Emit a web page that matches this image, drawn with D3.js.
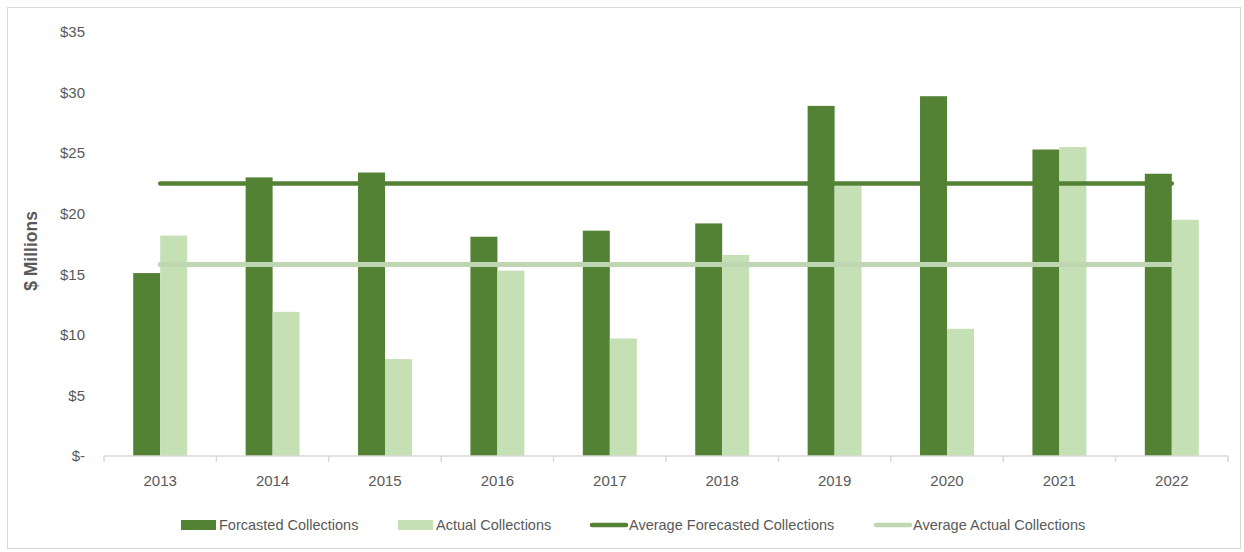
<!DOCTYPE html>
<html>
<head>
<meta charset="utf-8">
<script src="https://cdn.jsdelivr.net/npm/d3@7"></script>
<style>
  body { margin: 0; background: #fff; }
  text { font-family: 'Liberation Sans Narrow', 'Arial Narrow', 'Liberation Sans', sans-serif; fill: #595959; }
</style>
</head>
<body>
<div id="graf"></div>
<script>
const years = ['2013', '2014', '2015', '2016', '2017', '2018', '2019', '2020', '2021', '2022']
const forecasted = [15.1, 23.0, 23.4, 18.1, 18.6, 19.2, 28.9, 29.7, 25.3, 23.3]
const actual = [18.2, 11.9, 8.0, 15.3, 9.7, 16.6, 22.3, 10.5, 25.5, 19.5]
const avgForecasted = 22.5
const avgActual = 15.8
const yTicks = [0, 5, 10, 15, 20, 25, 30, 35]
const legendItems = ['Forcasted Collections', 'Actual Collections', 'Average Forecasted Collections', 'Average Actual Collections']

const anchoTotal = 1244
const altoTotal = 552
const margin = { top: 32, bottom: 96, left: 104, right: 16 }
const ancho = 1228 - margin.left
const alto = 456 - margin.top

const colorDark = '#548235'
const colorLight = '#c5e0b4'
const colorAvgLight = '#bfd6b2'

const svg = d3.select('#graf')
  .append('svg')
  .attr('width', anchoTotal)
  .attr('height', altoTotal)

svg.append('rect')
  .attr('x', 7.5).attr('y', 7.5)
  .attr('width', 1233).attr('height', 541)
  .attr('fill', '#fff')
  .attr('stroke', '#d9d9d9')

const g = svg.append('g')
  .attr('transform', `translate(${margin.left}, ${margin.top})`)

const x = d3.scaleBand()
  .domain(years)
  .range([0, ancho])
  .paddingInner(0.52)
  .paddingOuter(0.26)

const x1 = d3.scaleBand()
  .domain(['f', 'a'])
  .range([0, x.bandwidth()])

const y = d3.scaleLinear()
  .domain([0, 35])
  .range([alto, 0])

// y axis labels
g.selectAll('.ytick')
  .data(yTicks)
  .join('text')
  .attr('class', 'ytick')
  .attr('x', -19)
  .attr('y', d => y(d))
  .attr('dy', '0.35em')
  .attr('text-anchor', 'end')
  .attr('font-size', 15)
  .text(d => d === 0 ? '$-' : `$${d}`)

// bars
const grupos = g.selectAll('.grupo')
  .data(years.map((yr, i) => ({ yr, f: forecasted[i], a: actual[i] })))
  .join('g')
  .attr('class', 'grupo')
  .attr('transform', d => `translate(${x(d.yr)}, 0)`)

grupos.append('rect')
  .attr('x', x1('f'))
  .attr('y', d => y(d.f))
  .attr('width', x1.bandwidth())
  .attr('height', d => alto - y(d.f))
  .attr('fill', colorDark)

grupos.append('rect')
  .attr('x', x1('a'))
  .attr('y', d => y(d.a))
  .attr('width', x1.bandwidth())
  .attr('height', d => alto - y(d.a))
  .attr('fill', colorLight)

// x axis
const xAxisGroup = g.append('g')
  .attr('transform', `translate(0, ${alto})`)

xAxisGroup.append('line')
  .attr('x1', 0).attr('x2', ancho)
  .attr('stroke', '#d9d9d9').attr('stroke-width', 1.5)

xAxisGroup.selectAll('.xt')
  .data(d3.range(years.length + 1))
  .join('line')
  .attr('class', 'xt')
  .attr('x1', i => i * ancho / years.length)
  .attr('x2', i => i * ancho / years.length)
  .attr('y1', 0).attr('y2', 6)
  .attr('stroke', '#d9d9d9').attr('stroke-width', 1.5)

xAxisGroup.selectAll('.xl')
  .data(years)
  .join('text')
  .attr('class', 'xl')
  .attr('x', d => x(d) + x.bandwidth() / 2)
  .attr('y', 30)
  .attr('text-anchor', 'middle')
  .attr('font-size', 15)
  .text(d => d)

// average lines
const xMid = d => x(d) + x.bandwidth() / 2
const linea = d3.line().x(d => xMid(d.yr)).y(d => y(d.v))

g.append('path')
  .datum(years.map(yr => ({ yr, v: avgActual })))
  .attr('d', linea)
  .attr('fill', 'none')
  .attr('stroke', colorAvgLight)
  .attr('stroke-width', 5)
  .attr('stroke-linecap', 'round')

g.append('path')
  .datum(years.map(yr => ({ yr, v: avgForecasted })))
  .attr('d', linea)
  .attr('fill', 'none')
  .attr('stroke', colorDark)
  .attr('stroke-width', 4.5)
  .attr('stroke-linecap', 'round')

// y title
svg.append('text')
  .attr('transform', 'translate(37, 251) rotate(-90)')
  .attr('text-anchor', 'middle')
  .attr('font-size', 17.5)
  .attr('font-weight', 'bold')
  .attr('font-family', "'Open Sans', 'Liberation Sans', sans-serif")
  .text('$ Millions')

// legend
const legendPos = [181, 398, 590, 874]
const legend = svg.selectAll('.leg')
  .data(legendItems)
  .join('g')
  .attr('class', 'leg')
  .attr('transform', (d, i) => `translate(${legendPos[i]}, 525)`)

legend.each(function (d, i) {
  const el = d3.select(this)
  if (i < 2) {
    el.append('rect')
      .attr('x', 0).attr('y', -5)
      .attr('width', 35).attr('height', 10)
      .attr('fill', i === 0 ? colorDark : colorLight)
  } else {
    el.append('line')
      .attr('x1', 2).attr('x2', 36)
      .attr('stroke', i === 2 ? colorDark : colorAvgLight)
      .attr('stroke-width', 4.5)
      .attr('stroke-linecap', 'round')
  }
  el.append('text')
    .attr('x', i < 2 ? 38 : 39)
    .attr('dy', '0.35em')
    .attr('font-size', 14.5)
    .text(d)
})
</script>
</body>
</html>
